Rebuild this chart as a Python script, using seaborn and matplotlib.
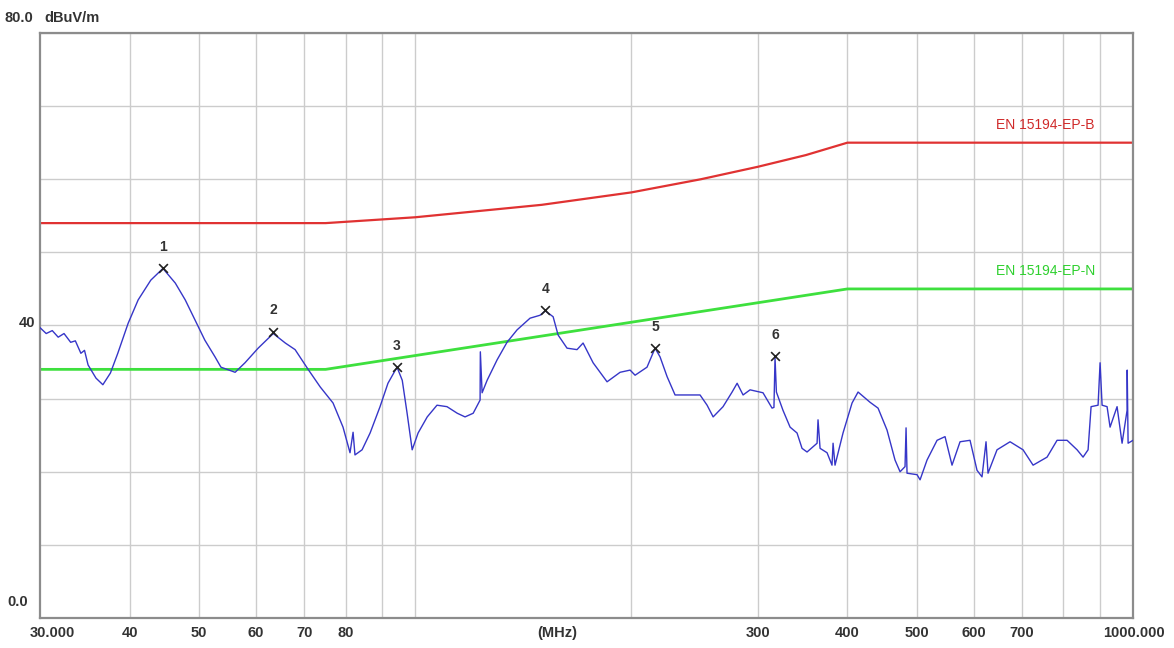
import numpy as np
import pandas as pd
import matplotlib
matplotlib.use("Agg")
import matplotlib.pyplot as plt
import seaborn as sns

freq = [30.0, 30.6, 31.2, 31.8, 32.4, 33.1, 33.6, 34.2, 34.6, 35.0, 35.9, 36.7, 37.6, 38.5,
        39.8, 41.1, 42.8, 44.5, 46.3, 47.8, 49.3, 50.9, 52.6, 53.6, 56.1, 57.9, 60.4,
        63.4, 65.9, 68.0, 70.9, 73.7, 76.8, 79.3, 81.1, 81.9, 82.4, 84.3, 86.5, 89.3,
        91.6, 94.3, 95.9, 97.4, 99.0, 100.9, 103.9, 107.2, 110.7, 114.4, 117.3, 120.4,
        123.1, 123.2, 123.9, 125.9, 130.0, 134.2, 138.6, 144.5, 149.2, 151.7, 155.6,
        158.1, 162.7, 168.0, 171.3, 176.9, 185.0, 192.9, 199.2, 202.4, 210.3, 215.8,
        219.3, 224.3, 230.1, 239.2, 249.3, 255.0, 260.0, 268.4, 276.3, 280.8, 286.2,
        292.7, 305.1, 314.1, 316.0, 317.1, 318.5, 325.3, 332.8, 340.3, 345.8, 351.4,
        362.9, 364.0, 366.4, 374.7, 380.7, 382.0, 384.4, 394.4, 406.0, 413.9, 430.1,
        441.3, 454.2, 466.0, 473.6, 481.2, 482.8, 484.3, 500.1, 505.0, 516.4, 533.3,
        547.1, 559.5, 574.1, 592.8, 606.2, 616.0, 624.0, 628.0, 646.4, 674.0, 702.7,
        725.7, 759.0, 783.7, 809.3, 835.7, 851.9, 865.7, 874.1, 893.9, 899.7, 905.5,
        920.1, 929.0, 950.1, 965.5, 981.1, 981.5, 984.3, 1000.0]
level = [39.7, 38.9, 39.3, 38.4, 38.9, 37.7, 37.9, 36.2, 36.6, 34.6, 32.8, 31.9, 33.5, 36.2,
         40.3, 43.5, 46.2, 47.8, 45.8, 43.5, 40.8, 38.0, 35.7, 34.3, 33.6, 34.9, 36.9,
         38.9, 37.6, 36.7, 34.0, 31.6, 29.4, 26.1, 22.6, 25.4, 22.3, 23.0, 25.3, 28.9,
         32.1, 34.3, 32.5, 28.0, 23.0, 25.3, 27.5, 29.1, 28.9, 28.0, 27.5, 28.0,
         29.8, 36.4, 30.8, 32.5, 35.3, 37.7, 39.4, 41.0, 41.4, 42.0, 41.2,
         38.7, 36.9, 36.7, 37.6, 34.9, 32.3, 33.6, 33.9, 33.2, 34.3, 36.9,
         35.7, 33.0, 30.5, 30.5, 30.5, 29.1, 27.5, 28.9, 30.9, 32.1, 30.5,
         31.2, 30.8, 28.7, 28.8, 35.6, 30.9, 28.4, 26.1, 25.3, 23.2, 22.7,
         23.9, 27.1, 23.2, 22.6, 20.9, 23.9, 20.9, 25.3, 29.4, 30.9, 29.5,
         28.7, 25.7, 21.6, 20.0, 20.7, 26.0, 19.8, 19.6, 18.9, 21.6, 24.3,
         24.8, 20.9, 24.1, 24.3, 20.2, 19.3, 24.1, 19.8, 23.0, 24.1, 23.0,
         20.9, 22.0, 24.3, 24.3, 23.0, 22.0, 23.0, 28.9, 29.1, 34.9, 29.1,
         28.9, 26.1, 28.9, 23.9, 28.4, 33.9, 23.9, 24.3]

# limit lines
limit_b_freq = [30, 75, 100, 150, 200, 250, 300, 350, 400, 1000]
limit_b_level = [54.0, 54.0, 54.8, 56.5, 58.2, 60.0, 61.7, 63.3, 65.0, 65.0]
limit_n_freq = [30, 75, 400, 1000]
limit_n_level = [34.0, 34.0, 45.0, 45.0]

# peak markers
peak_no = ["1", "2", "3", "4", "5", "6"]
peak_freq = [44.5, 63.4, 94.3, 151.7, 215.8, 317.1]
peak_level = [47.8, 39.1, 34.3, 42.1, 36.9, 35.8]

grid_freqs = [40, 50, 60, 70, 80, 90, 100, 200, 300, 400, 500, 600, 700, 800, 900]
grid_labels = ["40", "50", "60", "70", "80", "", "", "", "300", "400", "500", "600", "700", "", ""]

sns.set_style("white")
plt.rcParams["font.family"] = ["Liberation Sans", "DejaVu Sans"]

fig = plt.figure(figsize=(11.74, 6.48), dpi=100)
ax = fig.add_axes([0.0341, 0.0463, 0.9310, 0.9028])

trace = pd.DataFrame({"f": freq, "dB": level})
sns.lineplot(data=trace, x="f", y="dB", ax=ax, color="#3636c8", lw=1.0,
             sort=False, estimator=None, zorder=3)
sns.lineplot(x=limit_b_freq, y=limit_b_level, ax=ax, color="#e03232", lw=1.6,
             sort=False, estimator=None, zorder=2)
sns.lineplot(x=limit_n_freq, y=limit_n_level, ax=ax, color="#3ee03e", lw=2.0,
             sort=False, estimator=None, zorder=2)

ax.scatter(peak_freq, peak_level, marker="x", color="#222222", s=40, lw=1.2, zorder=4)
for n, f, l in zip(peak_no, peak_freq, peak_level):
    ax.text(f, l + 2.0, n, ha="center", va="bottom", fontsize=10, fontweight="bold",
            color="#333333")

ax.set_xscale("log")
ax.set_xlim(30, 1000)
ax.set_ylim(0, 80)
ax.set_xticks(grid_freqs)
ax.set_xticklabels(grid_labels)
ax.xaxis.set_minor_locator(matplotlib.ticker.NullLocator())
ax.set_yticks(range(0, 81, 10))
ax.set_yticklabels([])
ax.tick_params(length=0, labelsize=10.5, pad=6, colors="#333333")
for lbl in ax.get_xticklabels():
    lbl.set_fontweight("bold")
ax.grid(True, color="#cccccc", lw=1.0)
ax.set_xlabel("")
ax.set_ylabel("")
for s in ax.spines.values():
    s.set_color("#8c8c8c")
    s.set_linewidth(1.6)

yt = ax.get_yaxis_transform()
kw = dict(fontsize=10.5, fontweight="bold", color="#333333", clip_on=False)
ax.text(-0.006, 82.05, "80.0", ha="right", va="center", transform=yt, **kw)
ax.text(0.004, 82.05, "dBuV/m", ha="left", va="center", transform=yt, **kw)
ax.text(-0.004, 40.4, "40", ha="right", va="center", transform=yt, **kw)
ax.text(-0.011, 2.2, "0.0", ha="right", va="center", transform=yt, **kw)
ax.text(-0.009, -0.026, "30.000", ha="left", va="center", transform=ax.transAxes, **kw)
ax.text(1.029, -0.026, "1000.000", ha="right", va="center", transform=ax.transAxes, **kw)
ax.text(0.473, -0.026, "(MHz)", ha="center", va="center", transform=ax.transAxes, **kw)

ax.text(885, 67.4, "EN 15194-EP-B", ha="right", va="center", fontsize=10, color="#d02a2a")
ax.text(885, 47.5, "EN 15194-EP-N", ha="right", va="center", fontsize=10, color="#2ed02e")

fig.savefig("out.png", dpi=100)
